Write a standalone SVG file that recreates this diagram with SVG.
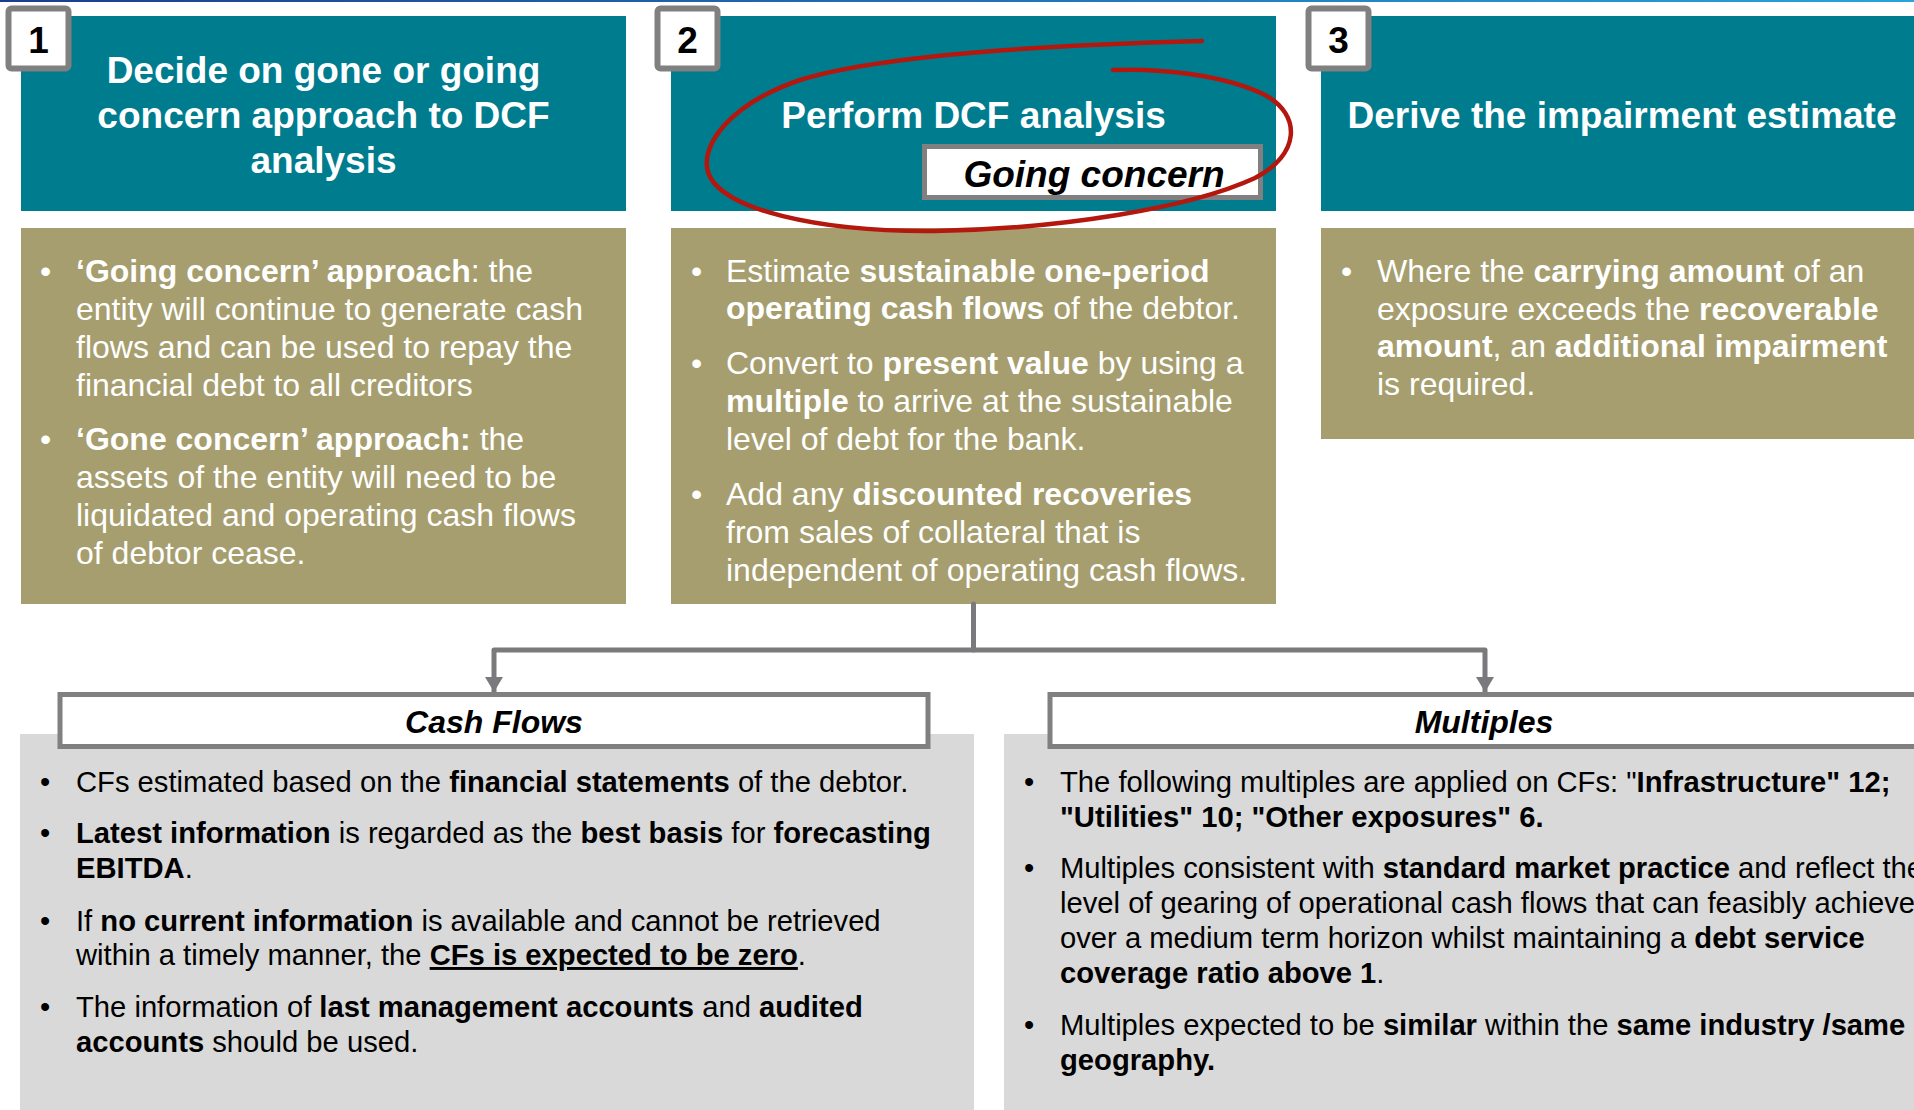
<svg xmlns="http://www.w3.org/2000/svg" width="1914" height="1110" viewBox="0 0 1914 1110">
<style>
text{font-family:"Liberation Sans",Arial,sans-serif}
.hd{fill:#fff;font-weight:bold;font-size:37px;text-anchor:middle}
.num{fill:#000;font-weight:bold;font-size:37px;text-anchor:middle}
.tb{fill:#fff;font-size:32px}
.lb{fill:#000;font-size:29.2px}
.b{font-weight:bold}
.teal{fill:#007C8F}
.tan{fill:#A69E6E}
.gbg{fill:#D9D9D9}
.nbox{fill:#fff;stroke:#808080;stroke-width:6}
.tbox{fill:#fff;stroke:#808080;stroke-width:5}
.ttl{fill:#000;font-weight:bold;font-style:italic;font-size:32px;text-anchor:middle}
.conn{fill:none;stroke:#7A7A7C;stroke-width:5;stroke-linejoin:round}
</style>
<defs>
<linearGradient id="topg" x1="0" x2="1" y1="0" y2="0">
<stop offset="0" stop-color="#1D3C8E"/>
<stop offset="1" stop-color="#28A3DD"/>
</linearGradient>
<marker id="arr" viewBox="0 0 15 18" refX="15" refY="9" markerWidth="15" markerHeight="18" markerUnits="userSpaceOnUse" orient="auto">
<path d="M0,0 L15,9 L0,18 z" fill="#7A7A7C"/>
</marker>
</defs>
<rect x="0" y="0" width="1914" height="2" fill="url(#topg)"/>

<g id="step1">
<rect class="teal" x="21" y="16" width="605" height="195"/>
<text class="hd"><tspan x="323.5" y="82.5">Decide on gone or going</tspan><tspan x="323.5" y="128">concern approach to DCF</tspan><tspan x="323.5" y="173">analysis</tspan></text>
<rect class="nbox" x="8.5" y="8.5" width="60" height="60" rx="3"/>
<text class="num" x="38.5" y="53">1</text>
</g>

<g id="step1-detail">
<rect class="tan" x="21" y="228" width="605" height="376"/>
<text class="tb" x="40" y="282">•</text>
<text class="tb" x="76" y="282"><tspan class="b">‘Going concern’ approach</tspan>: the</text>
<text class="tb" x="76" y="320">entity will continue to generate cash</text>
<text class="tb" x="76" y="358">flows and can be used to repay the</text>
<text class="tb" x="76" y="396">financial debt to all creditors</text>
<text class="tb" x="40" y="450">•</text>
<text class="tb" x="76" y="450"><tspan class="b">‘Gone concern’ approach:</tspan> the</text>
<text class="tb" x="76" y="488">assets of the entity will need to be</text>
<text class="tb" x="76" y="526">liquidated and operating cash flows</text>
<text class="tb" x="76" y="564">of debtor cease.</text>
</g>

<g id="step2">
<rect class="teal" x="671" y="16" width="605" height="195"/>
<text class="hd" x="973.5" y="128">Perform DCF analysis</text>
<rect class="tbox" x="924.5" y="146.5" width="336" height="51"/>
<text class="ttl" x="1094" y="187" style="font-size:37px">Going concern</text>
<rect class="nbox" x="657.5" y="8.5" width="60" height="60" rx="3"/>
<text class="num" x="687.5" y="53">2</text>
</g>

<g id="step2-detail">
<rect class="tan" x="671" y="228" width="605" height="376"/>
<text class="tb" x="691" y="282">•</text>
<text class="tb" x="726" y="282">Estimate <tspan class="b">sustainable one-period</tspan></text>
<text class="tb" x="726" y="319"><tspan class="b">operating cash flows</tspan> of the debtor.</text>
<text class="tb" x="691" y="374">•</text>
<text class="tb" x="726" y="374">Convert to <tspan class="b">present value</tspan> by using a</text>
<text class="tb" x="726" y="412"><tspan class="b">multiple</tspan> to arrive at the sustainable</text>
<text class="tb" x="726" y="450">level of debt for the bank.</text>
<text class="tb" x="691" y="505">•</text>
<text class="tb" x="726" y="505">Add any <tspan class="b">discounted recoveries</tspan></text>
<text class="tb" x="726" y="543">from sales of collateral that is</text>
<text class="tb" x="726" y="581">independent of operating cash flows.</text>
</g>

<g id="step3">
<rect class="teal" x="1321" y="16" width="605" height="195"/>
<text class="hd" x="1622" y="128">Derive the impairment estimate</text>
<rect class="nbox" x="1308.5" y="8.5" width="60" height="60" rx="3"/>
<text class="num" x="1338.5" y="53">3</text>
</g>

<g id="step3-detail">
<rect class="tan" x="1321" y="228" width="605" height="211"/>
<text class="tb" x="1341" y="282">•</text>
<text class="tb" x="1377" y="282">Where the <tspan class="b">carrying amount</tspan> of an</text>
<text class="tb" x="1377" y="320">exposure exceeds the <tspan class="b">recoverable</tspan></text>
<text class="tb" x="1377" y="357"><tspan class="b">amount</tspan>, an <tspan class="b">additional impairment</tspan></text>
<text class="tb" x="1377" y="395">is required.</text>
</g>

<g id="annotation">
<path d="M1202,41 C1050,45 880,55 800,80 C730,104 700,145 708,172 C720,210 820,232 935,231 C1060,229 1190,208 1255,178 C1300,155 1302,115 1265,95 C1225,75 1160,68 1113,70" fill="none" stroke="#B3170E" stroke-width="4.5" stroke-linecap="round"/>
</g>

<g id="connectors">
<path class="conn" d="M973.5,604 V650" stroke-linecap="round"/>
<path class="conn" d="M973.5,650 H494 V692" marker-end="url(#arr)"/>
<path class="conn" d="M973.5,650 H1485 V692" marker-end="url(#arr)"/>
</g>

<g id="cashflows">
<rect class="gbg" x="20" y="734" width="954" height="376"/>
<rect class="tbox" x="60" y="694.5" width="868" height="52"/>
<text class="ttl" x="494" y="733">Cash Flows</text>
<text class="lb" x="40" y="792">•</text>
<text class="lb" x="76" y="792">CFs estimated based on the <tspan class="b">financial statements</tspan> of the debtor.</text>
<text class="lb" x="40" y="843">•</text>
<text class="lb" x="76" y="843"><tspan class="b">Latest information</tspan> is regarded as the <tspan class="b">best basis</tspan> for <tspan class="b">forecasting</tspan></text>
<text class="lb" x="76" y="878"><tspan class="b">EBITDA</tspan>.</text>
<text class="lb" x="40" y="931">•</text>
<text class="lb" x="76" y="931">If <tspan class="b">no current information</tspan> is available and cannot be retrieved</text>
<text class="lb" x="76" y="965">within a timely manner, the <tspan class="b" text-decoration="underline">CFs is expected to be zero</tspan>.</text>
<text class="lb" x="40" y="1017">•</text>
<text class="lb" x="76" y="1017">The information of <tspan class="b">last management accounts</tspan> and <tspan class="b">audited</tspan></text>
<text class="lb" x="76" y="1052"><tspan class="b">accounts</tspan> should be used.</text>
</g>

<g id="multiples">
<rect class="gbg" x="1004" y="734" width="910" height="376"/>
<rect class="tbox" x="1050" y="694.5" width="900" height="52"/>
<text class="ttl" x="1484" y="733">Multiples</text>
<text class="lb" x="1024" y="792">•</text>
<text class="lb" x="1060" y="792">The following multiples are applied on CFs: "<tspan class="b">Infrastructure" 12;</tspan></text>
<text class="lb b" x="1060" y="827">"Utilities" 10; "Other exposures" 6.</text>
<text class="lb" x="1024" y="878">•</text>
<text class="lb" x="1060" y="878">Multiples consistent with <tspan class="b">standard market practice</tspan> and reflect the</text>
<text class="lb" x="1060" y="913">level of gearing of operational cash flows that can feasibly achieve</text>
<text class="lb" x="1060" y="948">over a medium term horizon whilst maintaining a <tspan class="b">debt service</tspan></text>
<text class="lb" x="1060" y="983"><tspan class="b">coverage ratio above 1</tspan>.</text>
<text class="lb" x="1024" y="1035">•</text>
<text class="lb" x="1060" y="1035">Multiples expected to be <tspan class="b">similar</tspan> within the <tspan class="b">same industry /same</tspan></text>
<text class="lb b" x="1060" y="1070">geography.</text>
</g>
</svg>
